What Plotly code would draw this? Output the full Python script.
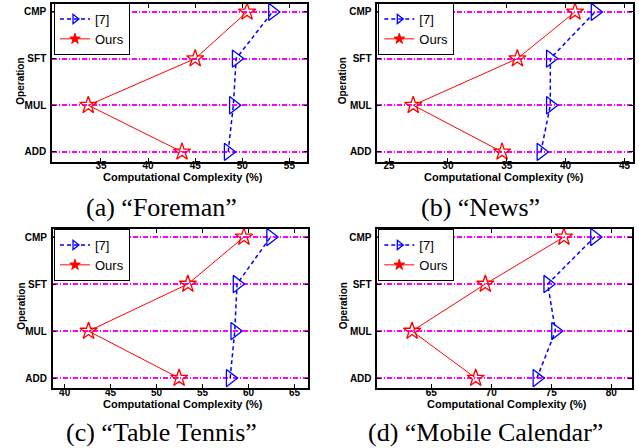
import plotly.graph_objects as go

# ---------------- data ----------------
operations = ["ADD", "MUL", "SFT", "CMP"]

foreman_ref7 = [48.5, 49.05, 49.35, 53.2]
foreman_ours = [43.6, 33.65, 45.0, 50.5]

news_ref7 = [37.9, 38.7, 38.7, 42.5]
news_ours = [34.6, 27.05, 35.9, 40.8]

tennis_ref7 = [58.0, 58.5, 58.75, 62.4]
tennis_ours = [52.45, 42.6, 53.4, 59.5]

mobile_ref7 = [73.8, 75.35, 74.7, 78.6]
mobile_ours = [68.7, 63.4, 69.5, 76.05]

series_names = ["[7]", "Ours"]
captions = ["(a) \u201cForeman\u201d", "(b) \u201cNews\u201d",
            "(c) \u201cTable Tennis\u201d", "(d) \u201cMobile Calendar\u201d"]
x_tickvals = [[35, 40, 45, 50, 55], [25, 30, 35, 40, 45],
              [40, 45, 50, 55, 60, 65], [65, 70, 75, 80]]
x_title = "Computational Complexity (%)"
y_title = "Operation"

panels_ref7 = [foreman_ref7, news_ref7, tennis_ref7, mobile_ref7]
panels_ours = [foreman_ours, news_ours, tennis_ours, mobile_ours]

# ---------------- layout geometry (pixels) ----------------
W, H = 639, 448
# left, right, top, bottom of each plot box
boxes = [(52, 307.3, 4, 161.7), (377.3, 632.7, 4, 161.7),
         (52.7, 308.3, 229, 388), (377.3, 631.7, 229, 388)]
x_ranges = [[29.8, 56.9], [24.0, 45.7], [38.7, 66.5], [60.5, 81.7]]
y_range = [-0.21, 3.17]
legend_pos = [(54, 3), (378.3, 3), (54, 229), (378.3, 229)]
ytitle_pos = [(20.7, 81), (343.3, 81), (20.7, 306), (343.3, 306)]
xtitle_pos = [(182.7, 177), (504.3, 177), (182.5, 404), (506.7, 404)]
caption_pos = [(161.7, 207), (480.3, 207), (161.7, 432), (485, 432)]

BLUE = "#0000FF"
RED = "#FF0000"
SANS = "Liberation Sans, Arial, sans-serif"


def px(x):
    return x / W


def py(y):
    return 1 - y / H


fig = go.Figure()
tick_font = dict(family=SANS, size=10, color="black", weight="bold")

for i in range(4):
    sfx = "" if i == 0 else str(i + 1)
    xa, ya = "x" + sfx, "y" + sfx
    leg = "legend" if i == 0 else "legend" + str(i + 1)
    fig.add_trace(go.Scatter(
        x=panels_ref7[i], y=operations, xaxis=xa, yaxis=ya,
        mode="lines+markers", name=series_names[0], showlegend=False,
        line=dict(color=BLUE, width=1.5, dash="4px,3px"),
        marker=dict(symbol="triangle-right-open", size=15, color=BLUE,
                    line=dict(width=1.3, color=BLUE)),
    ))
    fig.add_trace(go.Scatter(
        x=panels_ours[i], y=operations, xaxis=xa, yaxis=ya,
        mode="lines+markers", name=series_names[1], showlegend=False,
        line=dict(color=RED, width=1),
        marker=dict(symbol="star-open", size=13, color=RED,
                    line=dict(width=1.3, color=RED)),
    ))
    # legend entries (small legend symbols, like the reference)
    fig.add_trace(go.Scatter(
        x=[None], y=[None], xaxis=xa, yaxis=ya, mode="lines+markers",
        name=series_names[0], legend=leg,
        line=dict(color=BLUE, width=1.5, dash="4px,3px"),
        marker=dict(symbol="triangle-right-open", size=8, color=BLUE,
                    line=dict(width=1.3, color=BLUE)),
    ))
    fig.add_trace(go.Scatter(
        x=[None], y=[None], xaxis=xa, yaxis=ya, mode="lines+markers",
        name=series_names[1], legend=leg,
        line=dict(color=RED, width=1),
        marker=dict(symbol="star", size=8, color=RED,
                    line=dict(width=1, color=RED)),
    ))

    l, r, t, b = boxes[i]
    fig.layout["xaxis" + sfx] = dict(
        domain=[px(l), px(r)], anchor=ya, range=x_ranges[i],
        tickvals=x_tickvals[i], ticks="inside", ticklen=4, tickcolor="black",
        showline=True, linecolor="black", linewidth=1.5, mirror="ticks",
        showgrid=False, zeroline=False, tickfont=tick_font,
        ticklabelstandoff=-6,
    )
    fig.layout["yaxis" + sfx] = dict(
        domain=[py(b), py(t)], anchor=xa, type="category",
        categoryorder="array", categoryarray=operations, range=y_range,
        ticks="inside", ticklen=4, tickcolor="black",
        showline=True, linecolor="black", linewidth=1.5, mirror="ticks",
        showgrid=True, gridcolor="#FF00FF", gridwidth=1.5,
        griddash="5px,2px,1px,2px", zeroline=False, tickfont=tick_font,
        ticklabelstandoff=2,
    )
    lx, ly = legend_pos[i]
    fig.layout[leg] = dict(
        x=px(lx), y=py(ly), xanchor="left", yanchor="top",
        bgcolor="white", bordercolor="black", borderwidth=1,
        font=dict(family=SANS, size=13, color="black"),
        tracegroupgap=0, itemwidth=30,
    )
    # axis titles
    tx, ty = xtitle_pos[i]
    fig.add_annotation(text=x_title, x=px(tx), y=py(ty), xref="paper",
                       yref="paper", showarrow=False, xanchor="center",
                       yanchor="middle",
                       font=dict(family=SANS, size=11, color="black",
                                 weight="bold"))
    tx, ty = ytitle_pos[i]
    fig.add_annotation(text=y_title, x=px(tx), y=py(ty), xref="paper",
                       yref="paper", showarrow=False, textangle=-90,
                       xanchor="center", yanchor="middle",
                       font=dict(family=SANS, size=10, color="black",
                                 weight="bold"))
    cx, cy = caption_pos[i]
    fig.add_annotation(text=captions[i], x=px(cx), y=py(cy), xref="paper",
                       yref="paper", showarrow=False, xanchor="center",
                       yanchor="middle",
                       font=dict(family="Liberation Serif, Times New Roman, serif",
                                 size=26, color="black"))

fig.update_layout(
    width=W, height=H, margin=dict(l=0, r=0, t=0, b=0),
    paper_bgcolor="white", plot_bgcolor="white", showlegend=True,
)

fig.write_html(
    "out.html",
    config={"displayModeBar": False},
    post_script="document.body.style.margin='0';"
                "document.body.style.overflow='hidden';",
)
